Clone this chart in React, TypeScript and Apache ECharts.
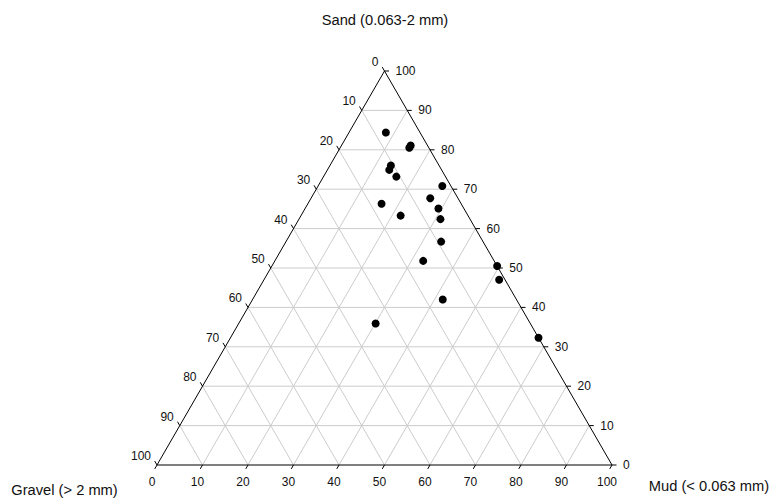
import React, { useEffect, useRef } from "react";
import * as echarts from "echarts";

// Composition of samples (percent)
const sand = [84.4, 80.5, 81.1, 76.0, 74.9, 73.2, 70.8, 66.3, 67.7, 65.1, 63.3, 62.4, 56.7, 51.8, 50.5, 47.0, 42.0, 32.3, 35.9];
const mud = [8.1, 15.2, 15.2, 13.4, 13.6, 16.0, 27.3, 16.2, 26.2, 29.3, 21.9, 31.1, 34.1, 32.6, 49.5, 51.7, 41.8, 67.7, 30.1];
const gravel = [7.5, 4.3, 3.7, 10.6, 11.5, 10.8, 1.9, 17.5, 6.1, 5.6, 14.8, 6.5, 9.2, 15.6, 0.0, 1.3, 16.2, 0.0, 34.0];

const gridValues = [10, 20, 30, 40, 50, 60, 70, 80, 90];
const tickValues = [0, 10, 20, 30, 40, 50, 60, 70, 80, 90, 100];

const titleSand = "Sand (0.063-2 mm)";
const titleGravel = "Gravel (> 2 mm)";
const titleMud = "Mud (< 0.063 mm)";

const H = Math.sqrt(3) / 2;
const FONT = '12px "Liberation Sans", Arial, sans-serif';
const TITLE_FONT = '14.7px "Liberation Sans", Arial, sans-serif';

// ternary (sand, mud) -> cartesian
function toXY(s: number, m: number): [number, number] {
  return [m + s / 2, s * H];
}

export default function App() {
  const ref = useRef<HTMLDivElement>(null);
  useEffect(() => {
    if (!ref.current) return;
    const chart = echarts.init(ref.current, null, { renderer: "svg" });

    const gridSegs: number[][] = [];
    gridValues.forEach((v) => {
      gridSegs.push([...toXY(v, 0), ...toXY(v, 100 - v)]);
      gridSegs.push([...toXY(0, v), ...toXY(100 - v, v)]);
      gridSegs.push([...toXY(100 - v, 0), ...toXY(0, 100 - v)]);
    });
    const borderSegs: number[][] = [
      [...toXY(0, 0), ...toXY(0, 100)],
      [...toXY(0, 100), ...toXY(100, 0)],
      [...toXY(100, 0), ...toXY(0, 0)],
    ];
    // [x, y, axisKind, value]  axisKind: 0 left (gravel), 1 right (sand), 2 bottom (mud)
    const ticks: number[][] = [];
    tickValues.forEach((v) => {
      ticks.push([...toXY(100 - v, 0), 0, v]);
      ticks.push([...toXY(v, 100 - v), 1, v]);
      ticks.push([...toXY(0, v), 2, v]);
    });

    const segRender = (color: string, width: number) => (params: any, api: any) => {
      const p1 = api.coord([api.value(0), api.value(1)]);
      const p2 = api.coord([api.value(2), api.value(3)]);
      return {
        type: "line",
        shape: { x1: p1[0], y1: p1[1], x2: p2[0], y2: p2[1] },
        style: { stroke: color, lineWidth: width, fill: null },
      };
    };

    const dirs = [
      [-0.5, -H],
      [1, 0],
      [-0.5, H],
    ];

    chart.setOption({
      animation: false,
      grid: { left: 157, top: 71, width: 455, height: 394, containLabel: false },
      xAxis: { type: "value", min: 0, max: 100, show: false },
      yAxis: { type: "value", min: 0, max: 100 * H, show: false },
      graphic: [
        { type: "text", x: 385, y: 20, style: { text: titleSand, font: TITLE_FONT, fill: "#111", align: "center", verticalAlign: "middle" } },
        { type: "text", x: 64.5, y: 490, style: { text: titleGravel, font: TITLE_FONT, fill: "#111", align: "center", verticalAlign: "middle" } },
        { type: "text", x: 709, y: 486, style: { text: titleMud, font: TITLE_FONT, fill: "#111", align: "center", verticalAlign: "middle" } },
      ],
      series: [
        {
          type: "custom",
          clip: false,
          silent: true,
          z: 1,
          data: gridSegs,
          renderItem: segRender("#cccccc", 1),
        },
        {
          type: "custom",
          clip: false,
          silent: true,
          z: 2,
          data: borderSegs,
          renderItem: segRender("#000000", 1),
        },
        {
          type: "custom",
          clip: false,
          silent: true,
          z: 3,
          data: ticks,
          renderItem: (params: any, api: any) => {
            const p = api.coord([api.value(0), api.value(1)]);
            const k = api.value(2);
            const v = api.value(3);
            const d = dirs[k];
            const len = 4.5;
            let lx: number, ly: number, align: string;
            if (k === 0) {
              lx = p[0] - 6; ly = p[1] - 9; align = "right";
            } else if (k === 1) {
              lx = p[0] + 11; ly = p[1]; align = "left";
            } else {
              lx = p[0] - 5; ly = p[1] + 17; align = "center";
            }
            return {
              type: "group",
              children: [
                {
                  type: "line",
                  shape: { x1: p[0], y1: p[1], x2: p[0] + d[0] * len, y2: p[1] + d[1] * len },
                  style: { stroke: "#000", lineWidth: 1 },
                },
                {
                  type: "text",
                  x: lx,
                  y: ly,
                  style: { text: String(v), font: FONT, fill: "#111", align, verticalAlign: "middle" },
                },
              ],
            };
          },
        },
        {
          type: "scatter",
          z: 5,
          symbol: "circle",
          symbolSize: 8,
          itemStyle: { color: "#000", opacity: 1 },
          data: sand.map((s, i) => {
            const xy = toXY(s, mud[i]);
            return { value: [xy[0], xy[1]], gravel: gravel[i] };
          }),
        },
      ],
    });
    return () => chart.dispose();
  }, []);
  return <div ref={ref} style={{ position: "absolute", left: 0, top: 0, width: 773, height: 498 }} />;
}
